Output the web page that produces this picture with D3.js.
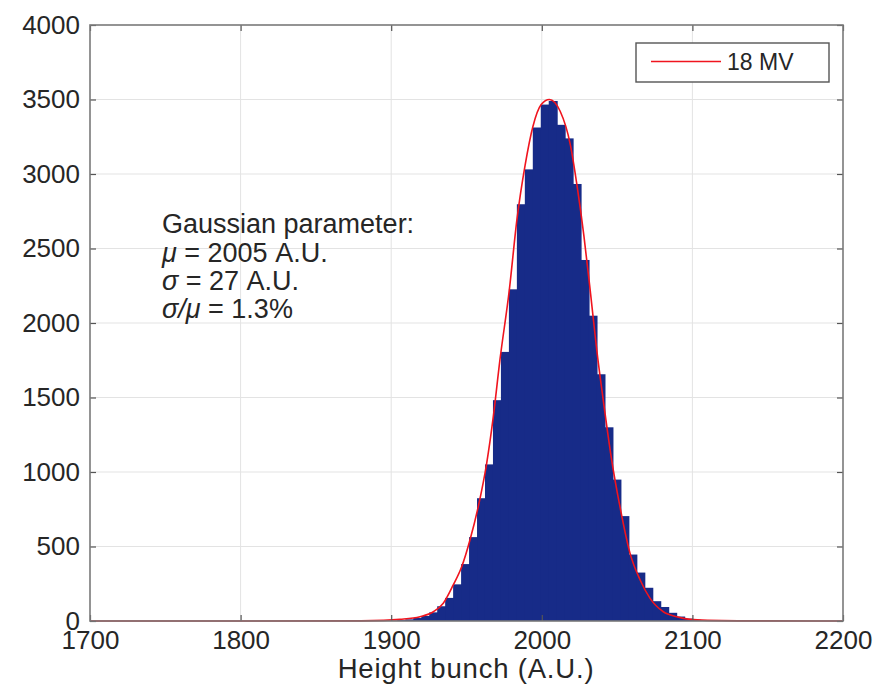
<!DOCTYPE html>
<html>
<head>
<meta charset="utf-8">
<script src="https://cdn.jsdelivr.net/npm/d3@7"></script>
<style>
  body { margin: 0; background: #fff; }
  text { font-family: "Liberation Sans", Arial, sans-serif; fill: #262626; }
</style>
</head>
<body>
<div id="chart"></div>
<script>
//Data
var binStart = 1898.8;   // left edge of first bin (A.U.)
var binWidth = 5.29;     // bin width (A.U.)
var counts = [3, 6, 11, 20, 34, 58, 99, 155, 246, 382, 563, 824, 1051, 1482, 1806, 2226,
    2797, 3031, 3312, 3466, 3490, 3330, 3239, 2933, 2423, 2049, 1656, 1300, 949, 704,
    446, 325, 223, 133, 94, 55, 30, 16, 8, 4, 2];

// gaussian fit curve
var fitX = [1700, 1880, 1895, 1905.8, 1919.1, 1928, 1934.6, 1941.2, 1946.8, 1952.3, 1957.8,
    1963.4, 1967.8, 1972.2, 1978.4, 1983.5, 1988.9, 1994.1, 1999.6, 2005, 2012.2, 2019,
    2023.4, 2028, 2032.4, 2036.5, 2040.8, 2046.4, 2051.9, 2058.6, 2065.3, 2071.9, 2080.7,
    2089.6, 2098.4, 2110, 2130, 2200];
var fitY = [0, 1, 4, 11, 29, 62, 119, 242, 364, 544, 767, 1058, 1371, 1752, 2219, 2695, 3058,
    3319, 3466, 3500, 3421, 3194, 2922, 2582, 2196, 1818, 1483, 1080, 767, 454, 275, 152,
    62, 29, 11, 4, 1, 0];

var xTicks = [1700, 1800, 1900, 2000, 2100, 2200];
var yTicks = [0, 500, 1000, 1500, 2000, 2500, 3000, 3500, 4000];
var legendLabel = "18 MV";
var xLabel = "Height bunch (A.U.)";

var bar_color = "#172b88";
var fit_color = "#f0141e";

//Setup
var width = 879, height = 685;
var margin = { top: 25, right: 36, bottom: 64, left: 90 };

var x = d3.scaleLinear().domain([1700, 2200]).range([margin.left, width - margin.right]);
var y = d3.scaleLinear().domain([0, 4000]).range([height - margin.bottom, margin.top]);

var svg = d3.select("#chart")
    .append("svg")
    .attr("width", width)
    .attr("height", height);

//Grid
var grid = svg.append("g").attr("stroke", "#e3e3e3").attr("stroke-width", 1);
grid.selectAll(".gx")
    .data(xTicks.slice(1, -1))
    .enter().append("line")
    .attr("x1", d => x(d)).attr("x2", d => x(d))
    .attr("y1", y(4000)).attr("y2", y(0));
grid.selectAll(".gy")
    .data(yTicks.slice(1, -1))
    .enter().append("line")
    .attr("x1", x(1700)).attr("x2", x(2200))
    .attr("y1", d => y(d)).attr("y2", d => y(d));

//Histogram (bars overlap slightly so no seams show)
svg.append("g")
    .attr("fill", bar_color)
    .selectAll("rect")
    .data(counts)
    .enter().append("rect")
    .attr("x", (d, i) => x(binStart + i * binWidth))
    .attr("width", (d, i) => x(binStart + binWidth) - x(binStart) + (i < counts.length - 1 ? 1 : 0))
    .attr("y", d => y(d))
    .attr("height", d => y(0) - y(d));

//Fit
var fitLine = d3.line()
    .x(d => x(d[0]))
    .y(d => y(d[1]))
    .curve(d3.curveMonotoneX);

svg.append("path")
    .attr("fill", "none")
    .attr("stroke", fit_color)
    .attr("stroke-width", 1.6)
    .attr("d", fitLine(d3.zip(fitX, fitY)));

//Axes (ticks pointing inwards, box on)
var tickLen = 6;
var fmt = d3.format("d");
var bottomAxis = svg.append("g")
    .attr("transform", `translate(0, ${y(0)})`)
    .call(d3.axisBottom(x).tickValues(xTicks).tickFormat(fmt).tickSizeInner(-tickLen).tickSizeOuter(0).tickPadding(10));
var leftAxis = svg.append("g")
    .attr("transform", `translate(${x(1700)}, 0)`)
    .call(d3.axisLeft(y).tickValues(yTicks).tickFormat(fmt).tickSizeInner(-tickLen).tickSizeOuter(0).tickPadding(10));
var topAxis = svg.append("g")
    .attr("transform", `translate(0, ${y(4000)})`)
    .call(d3.axisTop(x).tickValues(xTicks).tickSizeInner(-tickLen).tickSizeOuter(0).tickFormat(""));
var rightAxis = svg.append("g")
    .attr("transform", `translate(${x(2200)}, 0)`)
    .call(d3.axisRight(y).tickValues(yTicks).tickSizeInner(-tickLen).tickSizeOuter(0).tickFormat(""));

[bottomAxis, leftAxis, topAxis, rightAxis].forEach(a => {
    a.select(".domain").remove();
    a.selectAll(".tick line").attr("stroke", "#555").attr("stroke-width", 1.2);
    a.selectAll(".tick text").attr("font-size", 26).attr("fill", "#262626")
        .attr("font-family", "Liberation Sans, Arial, sans-serif");
});

svg.append("rect")
    .attr("x", x(1700)).attr("y", y(4000))
    .attr("width", x(2200) - x(1700)).attr("height", y(0) - y(4000))
    .attr("fill", "none")
    .attr("stroke", "#7a7a7a")
    .attr("stroke-width", 1.6);

//X label
svg.append("text")
    .attr("x", 466)
    .attr("y", 678)
    .attr("text-anchor", "middle")
    .attr("font-size", 27.5)
    .attr("letter-spacing", 0.8)
    .text(xLabel);

//Annotation
var note = svg.append("text")
    .attr("x", 162)
    .attr("y", 233)
    .attr("font-size", 27);
note.append("tspan").attr("x", 162).text("Gaussian parameter:");
var l2 = note.append("tspan").attr("x", 162).attr("dy", 29);
l2.append("tspan").attr("font-style", "italic").text("μ");
l2.append("tspan").text(" = 2005 A.U.");
var l3 = note.append("tspan").attr("x", 162).attr("dy", 28);
l3.append("tspan").attr("font-style", "italic").text("σ");
l3.append("tspan").text(" = 27 A.U.");
var l4 = note.append("tspan").attr("x", 162).attr("dy", 28);
l4.append("tspan").attr("font-style", "italic").text("σ/μ");
l4.append("tspan").text(" = 1.3%");

//Legend
var legend = svg.append("g").attr("transform", "translate(636, 43)");
legend.append("rect")
    .attr("width", 193).attr("height", 39)
    .attr("fill", "#fff")
    .attr("stroke", "#555")
    .attr("stroke-width", 1.4);
legend.append("line")
    .attr("x1", 15).attr("x2", 85)
    .attr("y1", 18.5).attr("y2", 18.5)
    .attr("stroke", fit_color)
    .attr("stroke-width", 1.6);
legend.append("text")
    .attr("x", 91).attr("y", 26.5)
    .attr("font-size", 23)
    .text(legendLabel);
</script>
</body>
</html>
